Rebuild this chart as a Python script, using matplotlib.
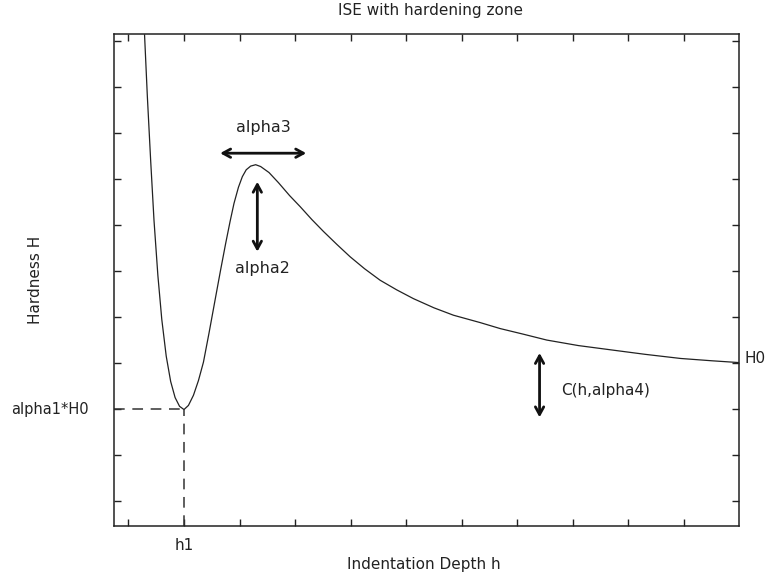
import matplotlib
matplotlib.use("Agg")
import matplotlib.pyplot as plt

# Curve (x in tick units, h1 = 1; y in tick units, H0 = 3)
depth = [0.29, 0.34, 0.40, 0.46, 0.53, 0.60, 0.68, 0.76, 0.84, 0.92, 1.00, 1.08, 1.17,
         1.26, 1.35, 1.45, 1.57, 1.66, 1.75, 1.83, 1.90, 1.98, 2.05, 2.12, 2.20, 2.29,
         2.38, 2.53, 2.70, 2.90, 3.09, 3.30, 3.51, 3.75, 3.99, 4.25, 4.53, 4.83, 5.13,
         5.50, 5.85, 6.33, 6.69, 7.10, 7.53, 8.10, 8.73, 9.30, 9.94, 10.50, 11.0]
hardness = [10.13, 8.80, 7.40, 6.10, 4.90, 3.95, 3.15, 2.60, 2.25, 2.06, 1.99, 2.08, 2.30,
            2.62, 3.02, 3.65, 4.44, 5.03, 5.60, 6.08, 6.47, 6.82, 7.05, 7.20, 7.28, 7.31,
            7.27, 7.14, 6.92, 6.64, 6.40, 6.12, 5.86, 5.58, 5.31, 5.05, 4.80, 4.59, 4.40,
            4.20, 4.04, 3.88, 3.75, 3.63, 3.50, 3.38, 3.28, 3.19, 3.10, 3.05, 3.01]

h1 = 1.0
alpha1_H0 = 2.0
H0 = 3.0
xticks = list(range(0, 11))
yticks = list(range(0, 11))

title = "ISE with hardening zone"
xlabel = "Indentation Depth h"
ylabel = "Hardness H"

fig = plt.figure(figsize=(7.69, 5.78), dpi=100)
ax = fig.add_axes([114/769, 1-526/578, (739-114)/769, (526-34)/578])

ax.plot(depth, hardness, color="#222222", lw=0.9)
ax.set_xlim(-0.26, 10.99)
ax.set_ylim(-0.54, 10.15)
ax.set_xticks(xticks)
ax.set_yticks(yticks)
ax.set_xticklabels([])
ax.set_yticklabels([])
ax.tick_params(direction="in", length=5, width=1, top=True, right=True, color="#222222")
for s in ax.spines.values():
    s.set_linewidth(1.1)
    s.set_color("#222222")

# dashed guide lines
ax.plot([-0.26, h1], [alpha1_H0, alpha1_H0], ls=(0, (7, 5)), color="#333333", lw=1.1)
ax.plot([h1, h1], [-0.54, alpha1_H0], ls=(0, (7, 5)), color="#333333", lw=1.1)

fs = 11.5
ap = dict(arrowstyle="<->,head_length=0.55,head_width=0.3", lw=2, color="#111111",
          shrinkA=0, shrinkB=0)
# alpha3
ax.annotate("", xy=(1.65, 7.56), xytext=(3.20, 7.56), arrowprops=ap)
ax.text(2.42, 8.12, "alpha3", ha="center", va="center", fontsize=fs, color="#222222")
# alpha2
ax.annotate("", xy=(2.32, 6.94), xytext=(2.32, 5.42), arrowprops=ap)
ax.text(2.42, 5.05, "alpha2", ha="center", va="center", fontsize=fs, color="#222222")
# C(h, alpha4)
ax.annotate("", xy=(7.40, 3.22), xytext=(7.40, 1.82), arrowprops=ap)
ax.text(7.78, 2.40, "C(h,alpha4)", ha="left", va="center", fontsize=11, color="#222222")

# side labels
ax.text(-0.72, alpha1_H0, "alpha1*H0", ha="right", va="center", fontsize=10.5,
        color="#222222", clip_on=False)
ax.text(11.08, H0 + 0.1, "H0", ha="left", va="center", fontsize=11,
        color="#222222", clip_on=False)
ax.text(h1, -0.97, "h1", ha="center", va="center", fontsize=11,
        color="#222222", clip_on=False)

fig.text(431/769, 1-10/578, title, ha="center", va="center", fontsize=11, color="#222222")
fig.text(424/769, 1-565/578, xlabel, ha="center", va="center", fontsize=11, color="#222222")
fig.text(35/769, 1-280/578, ylabel, ha="center", va="center", rotation=90,
         fontsize=11, color="#222222")

fig.savefig("out.png", dpi=100)
